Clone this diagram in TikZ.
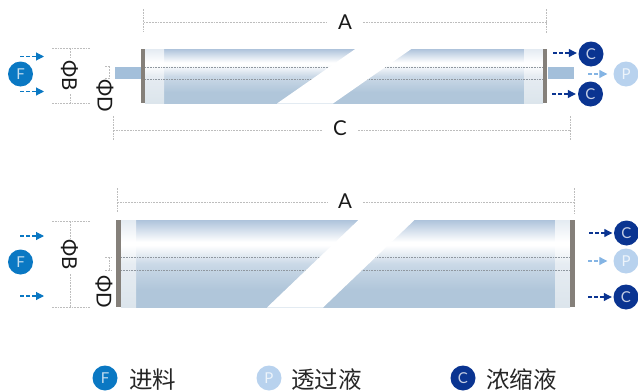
\documentclass[tikz,border=0pt]{standalone}
\usepackage{fontspec}
\setmainfont{Lato}
\newfontfamily\cjk{Noto Sans CJK SC}
\usetikzlibrary{arrows.meta}
\definecolor{capgray}{HTML}{85807A}
\definecolor{stub}{HTML}{A3BFDA}
\definecolor{colF}{HTML}{0A78C3}
\definecolor{colP}{HTML}{B8D2EE}
\definecolor{colC}{HTML}{0A3491}
\definecolor{arrP}{HTML}{84B4E4}
\definecolor{dimgray}{HTML}{BDBDBD}
\definecolor{innergray}{HTML}{8F979F}
\definecolor{tubeT}{HTML}{AEC3DB}
\definecolor{tubeM}{HTML}{CBD9E7}
\definecolor{tubeB}{HTML}{B0C6DA}
\definecolor{endT}{HTML}{E4EBF2}
\definecolor{endM}{HTML}{E6ECF2}
\definecolor{endB}{HTML}{DCE5EC}
\pgfdeclareverticalshading{tube}{100bp}{color(0bp)=(tubeB); color(25bp)=(tubeB); color(35bp)=(tubeB); color(50bp)=(tubeM); color(60.5bp)=(white); color(62.5bp)=(white); color(75bp)=(tubeT); color(100bp)=(tubeT)}
\pgfdeclareverticalshading{tubeend}{100bp}{color(0bp)=(endB); color(25bp)=(endB); color(50bp)=(endM); color(60.5bp)=(white); color(62.5bp)=(white); color(75bp)=(endT); color(100bp)=(endT)}
\tikzset{
  x=1pt,y=-1pt,
  dimline/.style={draw=dimgray,line width=1pt,dash pattern=on 1.8pt off 1pt},
  innerdot/.style={draw=innergray,line width=0.8pt,dash pattern=on 1pt off 0.6pt},
  tubebody/.style={shading=tube,draw=none},
  tubelight/.style={shading=tubeend,draw=none},
  capbar/.style={fill=capgray,draw=none},
  stubbar/.style={fill=stub,draw=none},
  breakband/.style={fill=white,draw=none},
  disc/.style={circle,minimum size=25pt,inner sep=0pt,text=white!75!#1,font=\fontsize{15}{15}\selectfont,fill=#1},
  flow/.style={draw=#1,line width=1.1pt,dash pattern=on 4pt off 2pt,
    -{Triangle[length=8pt,width=8pt,color=#1,sep=0pt]}},
  dimtext/.style={font=\fontsize{20.5}{20.5}\selectfont,text=black!90,inner sep=0pt},
  legendtext/.style={font=\cjk\fontsize{23.5}{23.5}\selectfont,text=black!85,inner sep=0pt,anchor=west},
}
\begin{document}
\begin{tikzpicture}
\useasboundingbox (0,0) rectangle (638,391);
% --- top module ---
\fill[stubbar] (115,67) rectangle (141,79);
\fill[stubbar] (548,67) rectangle (574,79);
\shade[tubebody] (164,49) rectangle (524,103);
\shade[tubelight] (145,49) rectangle (164,103);
\shade[tubelight] (524,49) rectangle (543,103);
\draw[innerdot] (145,67.5) -- (543,67.5);
\draw[innerdot] (145,79) -- (543,79);
\fill[breakband] (277,103.5) -- (333,103.5) -- (412,48.5) -- (356,48.5) -- cycle;
\fill[capgray] (141,49) rectangle (145,103);
\fill[capgray] (543,49) rectangle (547,103);
% --- bottom module ---
\shade[tubebody] (136,220) rectangle (555,307);
\shade[tubelight] (121,220) rectangle (136,307);
\shade[tubelight] (555,220) rectangle (570,307);
\draw[innerdot] (121,257) -- (570,257);
\draw[innerdot] (121,270) -- (570,270);
\fill[breakband] (267,307.5) -- (323,307.5) -- (415,219.5) -- (359,219.5) -- cycle;
\fill[capgray] (116,220) rectangle (121,307);
\fill[capgray] (570,220) rectangle (575,307);
% --- dimension labels ---
\node[dimtext] (a1) at (345,22) {A};
\node[dimtext] (c0) at (340,128.5) {C};
\node[dimtext] (a2) at (345,201.5) {A};
\node[dimtext,rotate=-90] (b1) at (69.5,76) {ΦB};
\node[dimtext,rotate=-90] (d1) at (105,96) {ΦD};
\node[dimtext,rotate=-90] (b2) at (69.5,255) {ΦB};
\node[dimtext,rotate=-90] (d2) at (104,292) {ΦD};
% --- dimension lines ---
\coordinate (a1l) at (143.5,22.5); \coordinate (a1r) at (546.5,22.5);
\draw[dimline] (a1l) -- (328,22.5); \draw[dimline] (363,22.5) -- (a1r);
\draw[dimline] (143.5,9) -- (143.5,32); \draw[dimline] (546.5,9) -- (546.5,33);
\coordinate (cl) at (113,130); \coordinate (cr) at (570,130);
\draw[dimline] (cl) -- (322,130); \draw[dimline] (358,130) -- (cr);
\draw[dimline] (113,116) -- (113,140); \draw[dimline] (570,116) -- (570,141);
\coordinate (a2l) at (117,202); \coordinate (a2r) at (574,202);
\draw[dimline] (a2l) -- (328,202); \draw[dimline] (363,202) -- (a2r);
\draw[dimline] (117,188) -- (117,212); \draw[dimline] (574,188) -- (574,214);
% phi B top
\draw[dimline] (52,48.5) -- (90,48.5); \draw[dimline] (52,103) -- (90,103);
\draw[dimline] (70,48.5) -- (70,58); \draw[dimline] (70,94) -- (70,103);
% phi D top marker
\draw[dimline] (105,66.5) -- (110,66.5); \draw[dimline] (105,78.5) -- (110,78.5);
\draw[dimline] (109,66.5) -- (109,78.5);
% phi B bottom
\draw[dimline] (52,221) -- (90,221); \draw[dimline] (52,307) -- (90,307);
\draw[dimline] (70,221) -- (70,238); \draw[dimline] (70,274) -- (70,307);
% phi D bottom marker
\draw[dimline] (105,257) -- (113,257); \draw[dimline] (105,270.5) -- (113,270.5);
\draw[dimline] (109,257) -- (109,270.5);
% --- discs ---
\node[disc=colF] (f1) at (20.5,74) {F};
\node[disc=colC] (c1) at (591,54) {C};
\node[disc=colC] (c2) at (590.5,94) {C};
\node[disc=colP] (p1) at (626,74) {P};
\node[disc=colF] (f2) at (20.5,262) {F};
\node[disc=colC] (c3) at (626.5,233) {C};
\node[disc=colP] (p2) at (626,261) {P};
\node[disc=colC] (c4) at (626,297) {C};
\node[disc=colF] (lf) at (105,378) {F};
\node[disc=colP] (lp) at (269,378) {P};
\node[disc=colC] (lc) at (463,378) {C};
% --- flow arrows ---
\coordinate (i1) at (20,56.5); \coordinate (i1e) at (44,56.5);
\coordinate (i2) at (20,91.5); \coordinate (i2e) at (44,91.5);
\coordinate (i3) at (20,236); \coordinate (i3e) at (44,236);
\coordinate (i4) at (20,296); \coordinate (i4e) at (44,296);
\draw[flow=colF] (i1) -- (i1e);
\draw[flow=colF] (i2) -- (i2e);
\draw[flow=colF] (i3) -- (i3e);
\draw[flow=colF] (i4) -- (i4e);
\coordinate (o1) at (553,53); \coordinate (o2) at (552,94);
\coordinate (o3) at (589,233); \coordinate (o4) at (588,297);
\coordinate (o5) at (588,74); \coordinate (o6) at (588,261);
\draw[flow=colC,shorten >=1.5pt] (o1) -- (c1.west |- o1);
\draw[flow=colC,shorten >=2pt] (o2) -- (c2.west |- o2);
\draw[flow=colC,shorten >=1.5pt] (o3) -- (c3.west |- o3);
\draw[flow=colC,shorten >=1.5pt] (o4) -- (c4.west |- o4);
\draw[flow=arrP,shorten >=6pt] (o5) -- (p1.west |- o5);
\draw[flow=arrP,shorten >=6pt] (o6) -- (p2.west |- o6);
% --- legend ---
\node[legendtext] (t1) at (129,380) {进料};
\node[legendtext] (t2) at (291,380) {透过液};
\node[legendtext] (t3) at (486,380) {浓缩液};
\end{tikzpicture}
\end{document}
